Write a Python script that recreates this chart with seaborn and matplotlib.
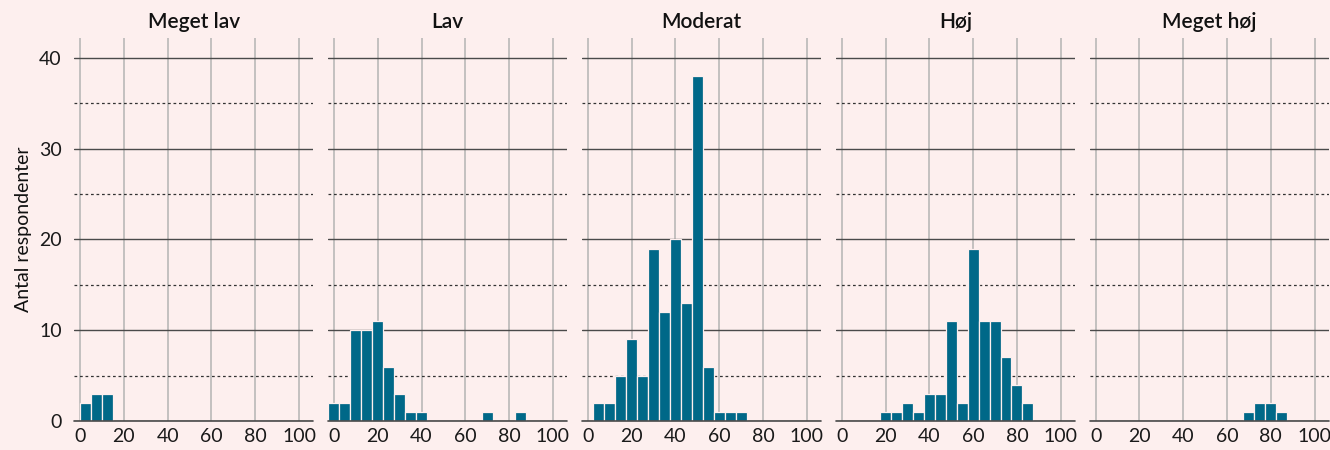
import pandas as pd
import seaborn as sns
import matplotlib.pyplot as plt
from matplotlib.ticker import MultipleLocator

# bin centres (width 5) and number of respondents per panel
panels = ['Meget lav', 'Lav', 'Moderat', 'Høj', 'Meget høj']

meget_lav_x = [2.5, 7.5, 12.5]
meget_lav_n = [2, 3, 3]

lav_x = [0, 5, 10, 15, 20, 25, 30, 35, 40, 70, 85]
lav_n = [2, 2, 10, 10, 11, 6, 3, 1, 1, 1, 1]

moderat_x = [5, 10, 15, 20, 25, 30, 35, 40, 45, 50, 55, 60, 65, 70]
moderat_n = [2, 2, 5, 9, 5, 19, 12, 20, 13, 38, 6, 1, 1, 1]

hoej_x = [20, 25, 30, 35, 40, 45, 50, 55, 60, 65, 70, 75, 80, 85]
hoej_n = [1, 1, 2, 1, 3, 3, 11, 2, 19, 11, 11, 7, 4, 2]

meget_hoej_x = [70, 75, 80, 85]
meget_hoej_n = [1, 2, 2, 1]

series = [
    (meget_lav_x, meget_lav_n),
    (lav_x, lav_n),
    (moderat_x, moderat_n),
    (hoej_x, hoej_n),
    (meget_hoej_x, meget_hoej_n),
]

bg = '#fdefee'
bar_color = '#006888'

sns.set_style('white')
plt.rcParams['font.family'] = ['Lato', 'DejaVu Sans']

fig, axes = plt.subplots(1, 5, figsize=(13.3, 4.5), dpi=100, sharey=True)
fig.patch.set_facecolor(bg)
plt.subplots_adjust(left=74.3 / 1330, right=1328.9 / 1330, bottom=1 - 421 / 450,
                    top=1 - 38 / 450, wspace=0.0623)

for i, (ax, name, (xs, ns)) in enumerate(zip(axes, panels, series)):
    df = pd.DataFrame({'score': xs, 'n': ns})
    ax.set_facecolor(bg)
    sns.histplot(data=df, x='score', weights='n', binwidth=5,
                 binrange=(min(xs) - 2.5, max(xs) + 2.5), ax=ax,
                 color=bar_color, alpha=1, edgecolor=bg, linewidth=0.9,
                 zorder=3)
    ax.set_xlim(-2.6, 106.5)
    ax.set_ylim(0, 42.2)
    ax.xaxis.set_major_locator(MultipleLocator(20))
    ax.yaxis.set_major_locator(MultipleLocator(10))
    ax.yaxis.set_minor_locator(MultipleLocator(5))
    ax.grid(axis='x', color='#b3b3b3', linewidth=1.1, zorder=0)
    ax.grid(axis='y', which='major', color='#4a4a4a', linewidth=1.0, zorder=1)
    ax.grid(axis='y', which='minor', color='#333333', linewidth=0.9,
            linestyle=(0, (2.2, 2.2)), zorder=1)
    ax.axhline(0, color='#4a4a4a', linewidth=1.2, clip_on=False, zorder=4)
    ax.set_axisbelow(True)
    for s in ax.spines.values():
        s.set_visible(False)
    ax.tick_params(axis='x', length=0, pad=5, labelsize=14,
                   labelcolor='#1a1a1a')
    if i == 0:
        ax.tick_params(axis='y', which='major', length=5, width=1,
                       color='#4a4a4a', pad=4, labelsize=14,
                       labelcolor='#1a1a1a')
        ax.tick_params(axis='y', which='minor', length=5, width=0.9,
                       color='#555555')
        ax.set_ylabel('Antal respondenter', fontsize=14, color='#111111',
                      labelpad=5)
    else:
        ax.tick_params(axis='y', which='both', length=0, left=False)
        ax.set_ylabel('')
    ax.set_xlabel('')
    ax.set_title(name, fontsize=15, fontweight='semibold', color='#111111',
                 pad=7)

fig.savefig('out.png', dpi=100, facecolor=bg)
